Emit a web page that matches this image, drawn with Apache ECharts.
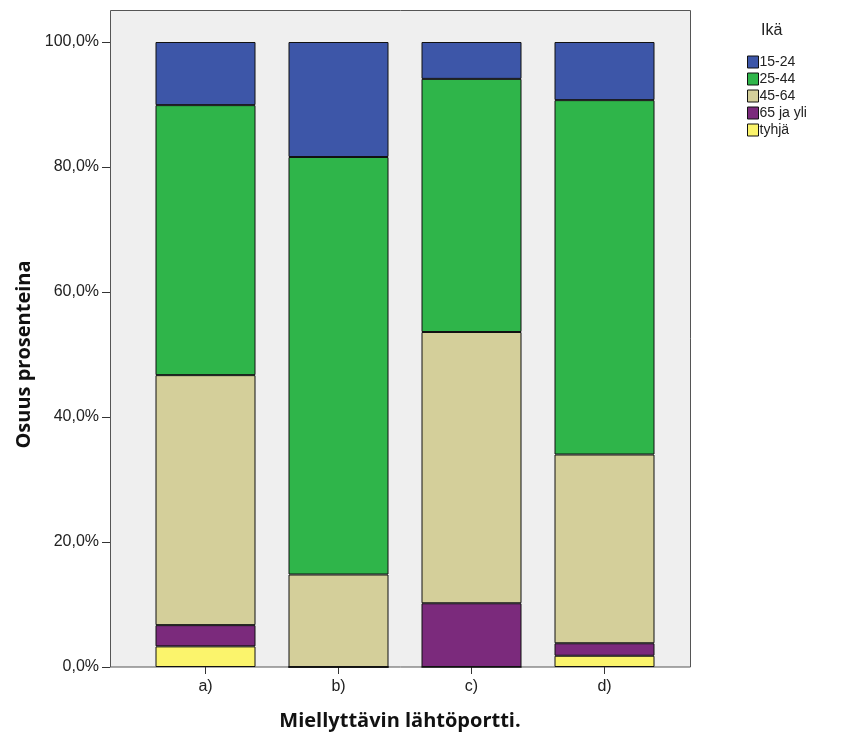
<!DOCTYPE html>
<html>
<head>
<meta charset="utf-8">
<script src="https://cdn.jsdelivr.net/npm/echarts@6/dist/echarts.min.js"></script>
<style>html,body{margin:0;padding:0;background:#fff;}#c{width:849px;height:741px;}</style>
</head>
<body>
<div id="c"></div>
<script>
var categories = ['a)', 'b)', 'c)', 'd)'];
var yTicks = [0, 20, 40, 60, 80, 100];
var seriesNames = ['tyhjä', '65 ja yli', '45-64', '25-44', '15-24'];
var legendOrder = ['15-24', '25-44', '45-64', '65 ja yli', 'tyhjä'];
var tyhja = [3.3, 0, 0, 1.8];
var yli65 = [3.4, 0, 10.2, 2.0];
var v45_64 = [40.0, 14.8, 43.4, 30.2];
var v25_44 = [43.2, 66.8, 40.5, 56.7];
var v15_24 = [10.1, 18.4, 5.9, 9.3];
var colors = { 'tyhjä': '#FBF46C', '65 ja yli': '#7B2A7C', '45-64': '#D4CF9A', '25-44': '#2FB54A', '15-24': '#3D56A8' };
var seriesData = [tyhja, yli65, v45_64, v25_44, v15_24];

var chart = echarts.init(document.getElementById('c'), null, { renderer: 'canvas' });
var series = seriesNames.map(function (n, i) {
  return {
    name: n, type: 'bar', stack: 'total', barWidth: 100,
    data: seriesData[i],
    itemStyle: { color: colors[n], borderColor: '#111', borderWidth: 1 },
    emphasis: { disabled: true }
  };
});
chart.setOption({
  animation: false,
  backgroundColor: '#fff',
  graphic: [
    { type: 'rect', z: -10, shape: { x: 110.5, y: 10.5, width: 580, height: 656.5 }, style: { fill: '#EFEFEF', stroke: '#555', lineWidth: 1 } },
    { type: 'text', left: 761, top: 23, style: { text: 'Ikä', font: '16px "Liberation Sans", Arial, sans-serif', fill: '#222' } }
  ],
  grid: { left: 139, right: 178, top: 42, bottom: 74, containLabel: false },
  legend: {
    data: legendOrder, orient: 'vertical', left: 747, top: 55, padding: 0,
    itemWidth: 11, itemHeight: 12, itemGap: 3, icon: 'rect',
    itemStyle: { borderColor: '#111', borderWidth: 1 },
    textStyle: { fontFamily: '"Liberation Sans", Arial, sans-serif', fontSize: 14, lineHeight: 12, color: '#222', padding: [0, 0, 0, -4] },
    selectedMode: false
  },
  xAxis: {
    type: 'category', data: categories,
    axisLine: { show: false },
    axisTick: { show: true, alignWithLabel: true, length: 7, lineStyle: { color: '#333' } },
    axisLabel: { fontFamily: '"Liberation Sans", Arial, sans-serif', fontSize: 16, color: '#222', margin: 12 },
    name: 'Miellyttävin lähtöportti.', nameLocation: 'middle', nameGap: 44,
    nameTextStyle: { fontFamily: '"Open Sans", "DejaVu Sans", sans-serif', fontWeight: 'bold', fontSize: 20, color: '#111', padding: [0, 10, 0, 0] }
  },
  yAxis: {
    type: 'value', min: 0, max: 100, interval: 20, offset: 29,
    axisLine: { show: true, lineStyle: { color: '#555' } },
    axisTick: { show: true, length: 8, lineStyle: { color: '#333' } },
    splitLine: { show: false },
    axisLabel: {
      fontFamily: '"Liberation Sans", Arial, sans-serif', fontSize: 16, color: '#222', margin: 11,
      formatter: function (v) { return yTicks.indexOf(v) >= 0 ? v.toFixed(1).replace('.', ',') + '%' : ''; }
    },
    name: 'Osuus prosenteina', nameLocation: 'middle', nameGap: 74,
    nameTextStyle: { fontFamily: '"Open Sans", "DejaVu Sans", sans-serif', fontWeight: 'bold', fontSize: 20, color: '#111' }
  },
  series: series
});
</script>
</body>
</html>
